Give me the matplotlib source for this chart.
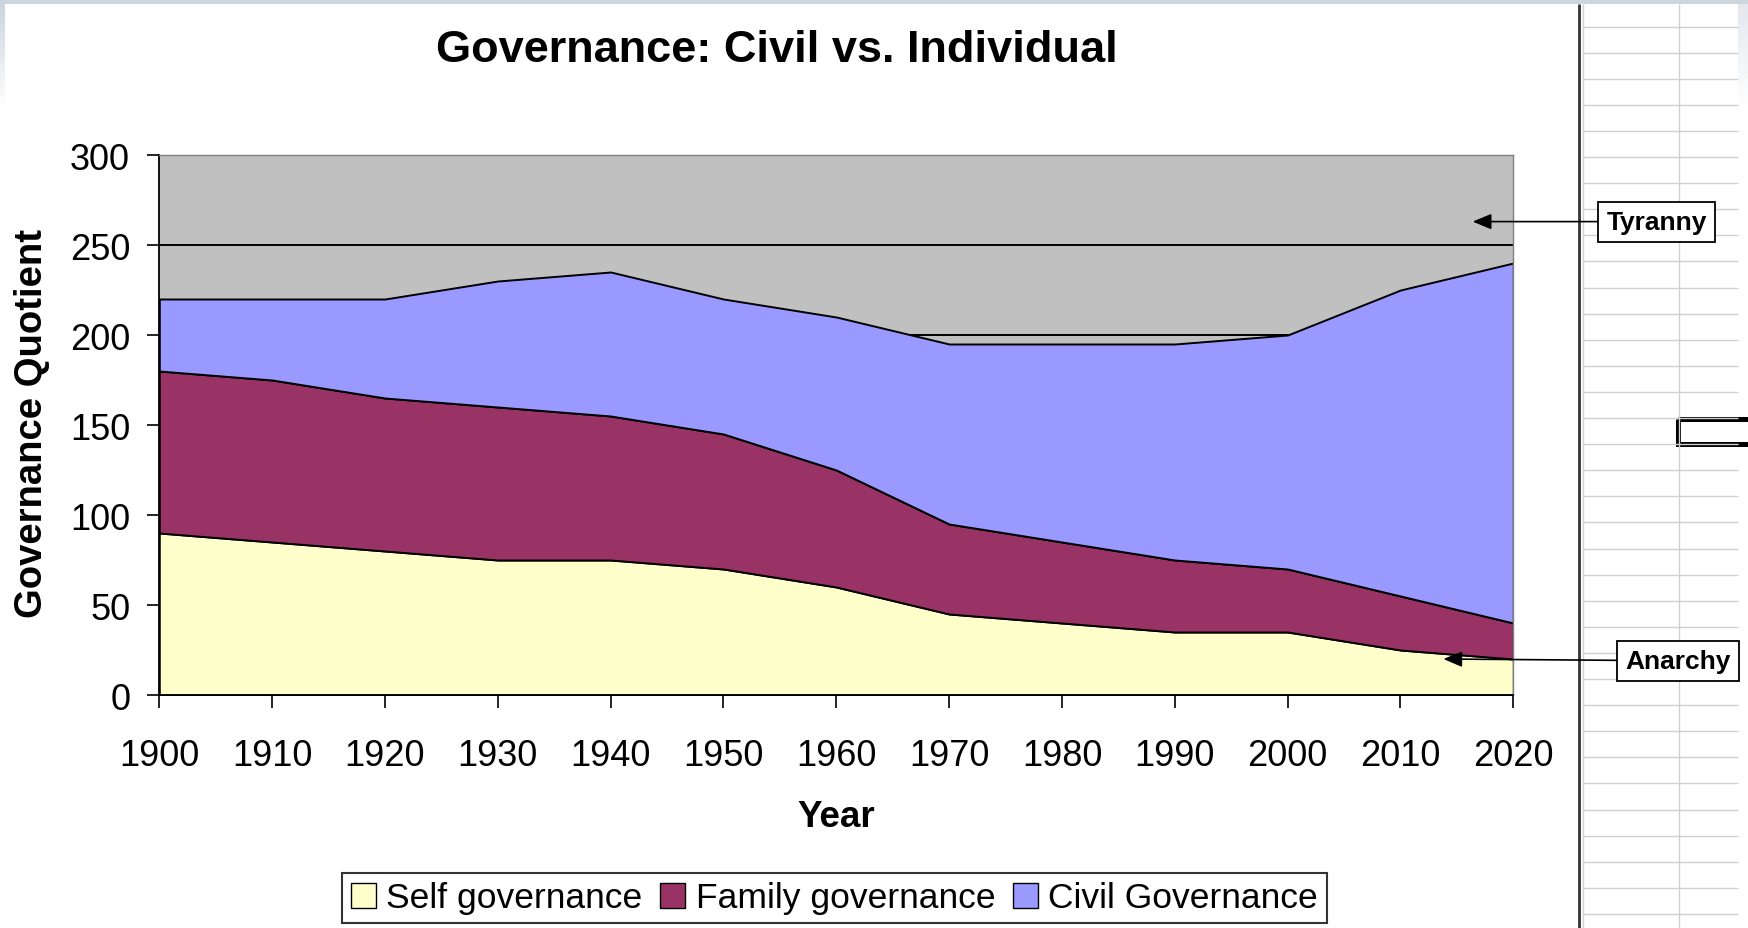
import numpy as np
import matplotlib.pyplot as plt
from matplotlib.patches import Patch, Rectangle

plt.rcParams['font.family'] = ['Liberation Sans', 'DejaVu Sans']

# data
years = [1900, 1910, 1920, 1930, 1940, 1950, 1960, 1970, 1980, 1990, 2000, 2010, 2020]
self_gov = [90, 85, 80, 75, 75, 70, 60, 45, 40, 35, 35, 25, 20]
family_gov = [90, 90, 85, 85, 80, 75, 65, 50, 45, 40, 35, 30, 20]
civil_gov = [40, 45, 55, 70, 80, 75, 85, 100, 110, 120, 130, 170, 200]
series_names = ['Self governance', 'Family governance', 'Civil Governance']
colors = ['#FFFFCC', '#993366', '#9999FF']

tyranny_level = 250
floor_years = [1966.7, 2000]
floor_level = [200, 200]

W, H = 1749, 929
fig = plt.figure(figsize=(W / 100, H / 100), dpi=100)

# spreadsheet / window decoration behind the chart
deco = fig.add_axes([0, 0, 1, 1], zorder=0)
deco.set_xlim(0, W)
deco.set_ylim(H, 0)
deco.axis('off')
deco.add_patch(Rectangle((0, 0), W, 5, color='#CDD5DF', lw=0))
for i in range(20):
    a = 1 - i / 20
    deco.add_patch(Rectangle((0, 5 + i * 5), 5, 5, color='#CDD5DF', alpha=a, lw=0))
    deco.add_patch(Rectangle((1738, 5 + i * 5), 11, 5, color='#E4E8EE', alpha=a, lw=0))
row_y = np.arange(27.5, H, 26.1)
deco.hlines(row_y, 1583, 1738, color='#D0D0D0', lw=1)
deco.vlines([1583, 1679], 5, H, color='#D0D0D0', lw=1)
deco.vlines(1579, 5, H, color='#333333', lw=2)
deco.add_patch(Rectangle((1678.5, 419.5), 100, 25, fill=False, ec='black', lw=3.6))

ax = fig.add_axes([159.3 / W, 1 - 696 / H, 1354 / W, 540 / H], zorder=1)
ax.set_facecolor('#C0C0C0')
ax.stackplot(years, self_gov, family_gov, civil_gov, colors=colors,
             edgecolor='black', linewidth=1.4)
ax.axhline(tyranny_level, color='black', lw=1.4)
ax.plot(floor_years, floor_level, color='black', lw=1.4)

ax.set_xlim(1900, 2020)
ax.set_ylim(0, 300)
ax.set_xticks(years)
ax.set_yticks(range(0, 301, 50))
ax.tick_params(labelsize=26, length=9, width=1.2, direction='out')
ax.tick_params(axis='x', pad=22)
ax.tick_params(axis='y', pad=12)
for s in ['left', 'bottom']:
    ax.spines[s].set_linewidth(1.3)
for s in ['top', 'right']:
    ax.spines[s].set_color('#808080')
    ax.spines[s].set_linewidth(1)

ax.set_xlabel('Year', fontsize=26.5, fontweight='bold')
ax.xaxis.set_label_coords(0.5, -0.192)
ax.set_ylabel('Governance Quotient', fontsize=27.5, fontweight='bold')
ax.yaxis.set_label_coords(-0.081, 0.505)

fig.text(777 / W, 1 - 51 / H, 'Governance: Civil vs. Individual',
         fontsize=32.5, fontweight='bold', ha='center', va='center')

arrow = dict(arrowstyle='-|>,head_length=0.6,head_width=0.25', color='black',
             lw=1.2, shrinkA=0, shrinkB=0)
box = dict(boxstyle='square,pad=0.3', fc='white', ec='black', lw=1.3)
ax.annotate('Tyranny', xy=(2016.4, 263), xytext=(2032.7, 263),
            ha='center', va='center', fontsize=19, fontweight='bold',
            bbox=box, arrowprops=arrow, annotation_clip=False)
ax.annotate('Anarchy', xy=(2013.8, 20), xytext=(2034.6, 19),
            ha='center', va='center', fontsize=19, fontweight='bold',
            bbox=box, arrowprops=arrow, annotation_clip=False)

handles = [Patch(facecolor=c, edgecolor='black', lw=1) for c in colors]
leg = fig.legend(handles, series_names, loc='center', bbox_to_anchor=(834.5 / W, 1 - 899 / H),
                 ncol=3, fontsize=25.5, frameon=True, fancybox=False, edgecolor='black',
                 handlelength=0.7, handleheight=0.7, handletextpad=0.3,
                 columnspacing=0.5, borderpad=0.25)
leg.get_frame().set_linewidth(1.5)

fig.savefig('out.png', dpi=100)
